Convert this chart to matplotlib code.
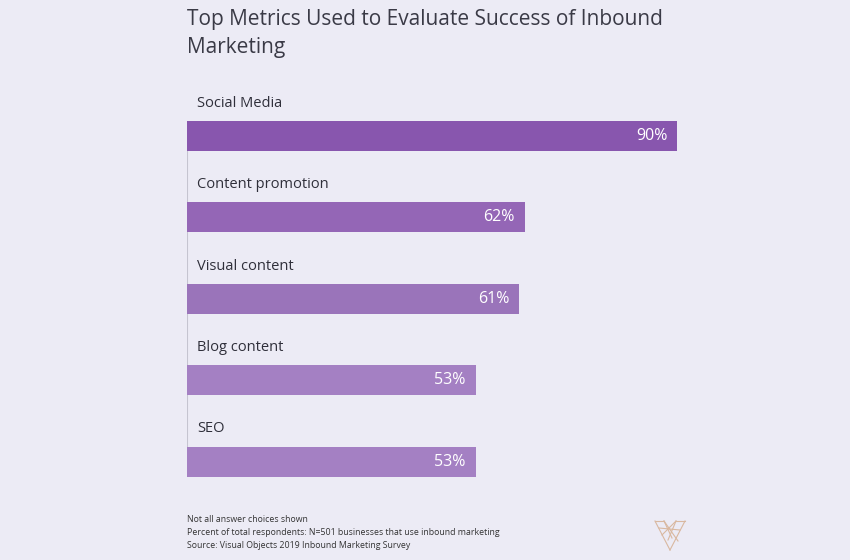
import matplotlib
matplotlib.use("Agg")
import matplotlib.pyplot as plt
from matplotlib.lines import Line2D

categories = ["Social Media", "Content promotion", "Visual content", "Blog content", "SEO"]
values = [90, 62, 61, 53, 53]
value_labels = ["90%", "62%", "61%", "53%", "53%"]
colors = ["#8856ae", "#9466b6", "#9a74ba", "#a480c3", "#a480c3"]
title = "Top Metrics Used to Evaluate Success of Inbound\nMarketing"
notes = ["Not all answer choices shown",
         "Percent of total respondents: N=501 businesses that use inbound marketing",
         "Source: Visual Objects 2019 Inbound Marketing Survey"]

BG = "#ecebf5"
W, H = 850, 560
fig = plt.figure(figsize=(W / 100, H / 100), dpi=100, facecolor=BG)
plt.rcParams['font.family'] = ['Open Sans', 'DejaVu Sans']

# axes: left at x=187, 100% = 544.4px
left_px, right_px = 187, 187 + 544.4
top_px, bot_px = 90, 477
ax = fig.add_axes([left_px / W, 1 - bot_px / H, (right_px - left_px) / W, (bot_px - top_px) / H])
ax.set_facecolor(BG)
ax.set_xlim(0, 100)
ax.set_ylim(4.19, -0.565)
for s in ax.spines.values():
    s.set_visible(False)
ax.set_xticks([])
ax.set_yticks([])

bh = 0.368
ypos = list(range(len(categories)))
ax.barh(ypos, values, height=bh, color=colors, zorder=2)
ax.vlines(0, -bh / 2, ypos[-1] + bh / 2, color="#c5c4d0", lw=1.5, zorder=1)

for y, v, cat, lab in zip(ypos, values, categories, value_labels):
    ax.text(1.85, y - 0.40, cat, ha="left", va="center", fontsize=10.5, color="#2f2f3a")
    ax.text(v - 1.8, y, lab, ha="right", va="center", fontsize=11.5, color="white", zorder=3)

fig.text(187 / W, 1 - 9 / H, title, ha="left", va="top", fontsize=15, color="#3a3a46",
         linespacing=1.45)

for i, n in enumerate(notes):
    fig.text(187 / W, 1 - (520 + i * 12.5) / H, n, ha="left", va="center", fontsize=6.3, color="#333333")

# small wireframe "V" logo
lc = "#d9b8a0"
pts = [((655, 521), (670, 550)), ((685, 521), (670, 550)), ((655, 521), (664, 521)),
       ((664, 521), (672, 538)), ((676, 521), (685, 521)), ((676, 521), (668, 540)),
       ((659, 528), (680, 530)), ((662, 535), (676, 521)), ((664, 521), (678, 541))]
for (x1, y1), (x2, y2) in pts:
    fig.add_artist(Line2D([x1 / W, x2 / W], [1 - y1 / H, 1 - y2 / H], color=lc, lw=0.8,
                          transform=fig.transFigure))

fig.savefig("out.png", dpi=100, facecolor=BG)
